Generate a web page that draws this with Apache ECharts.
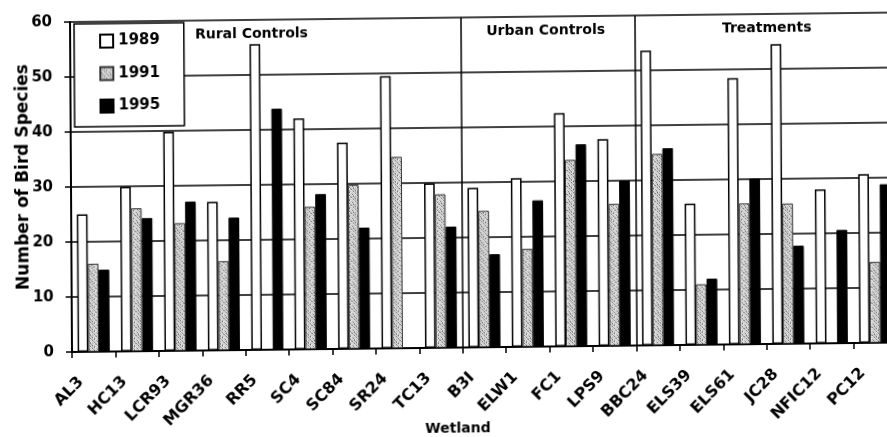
<!DOCTYPE html>
<html>
<head>
<meta charset="utf-8">
<script src="https://cdn.jsdelivr.net/npm/echarts@6/dist/echarts.min.js"></script>
<style>
  html, body { margin: 0; padding: 0; background: #fff; overflow: hidden; }
  /* the printed figure sits slightly askew on the page */
  #chart {
    width: 920px; height: 460px;
    transform-origin: 72px 352px;
    transform: matrix(1, -0.0115, 0.006, 1, 0, 0);
  }
</style>
</head>
<body>
<div id="chart"></div>
<script>
// Wetland sites, grouped as rural controls, urban controls and treatments
const wetlands = ['AL3', 'HC13', 'LCR93', 'MGR36', 'RR5', 'SC4', 'SC84', 'SR24', 'TC13',
                  'B3I', 'ELW1', 'FC1', 'LPS9',
                  'BBC24', 'ELS39', 'ELS61', 'JC28', 'NFIC12', 'PC12'];

// Number of bird species per survey year ('-' = not surveyed)
const species1989 = [25, 29.9, 39.8, 27, 55.6, 42, 37.5, 49.5, 29.9, 29, 30.7, 42.4, 37.6, 53.6, 25.7, 48.4, 54.5, 28, 30.7];
const species1991 = [16, 26, 23.2, 16.2, '-', 25.9, 29.8, 34.8, 27.9, 24.8, 17.8, 33.9, 25.8, 34.8, 11, 25.6, 25.5, '-', 14.7];
const species1995 = [14.9, 24.2, 27.1, 24.1, 43.8, 28.2, 22, '-', 22, 16.9, 26.6, 36.7, 30, 35.8, 12, 30.1, 17.8, 20.6, 28.8];

const yTicks = { min: 0, max: 60, step: 10 };
const groupLabels = ['Rural Controls', 'Urban Controls', 'Treatments'];
const groupStarts = [0, 9, 13]; // first category index of each group
const groupNudge = [-14, -2, 2];  // small horizontal nudges of the headings

const FONT = 'DejaVu Sans';

// Stippled halftone fill for the 1991 bars
function stipple() {
  const rows = [
    '#.:+.:.+',
    '.+.:#.:.',
    ':.#.+.+:',
    '.:.+.:#.',
    '+.:.#.:.',
    '.#.:.+.:',
    ':.+.:.#.',
    '.:#.+:.+'
  ];
  const shade = { '#': 90, '+': 160, ':': 200, '.': 235 };
  const c = document.createElement('canvas');
  c.width = 8; c.height = 8;
  const ctx = c.getContext('2d');
  const img = ctx.createImageData(8, 8);
  for (let y = 0; y < 8; y++) {
    for (let x = 0; x < 8; x++) {
      const v = shade[rows[y][x]];
      const i = (y * 8 + x) * 4;
      img.data[i] = v; img.data[i + 1] = v; img.data[i + 2] = v; img.data[i + 3] = 255;
    }
  }
  ctx.putImageData(img, 0, 0);
  return { image: c, repeat: 'repeat' };
}

const chart = echarts.init(document.getElementById('chart'), null, { renderer: 'canvas' });

const barBase = { type: 'bar', barWidth: 10.7, barGap: '0%', z: 3 };

chart.setOption({
  animation: false,
  backgroundColor: '#fff',
  textStyle: { fontFamily: FONT },
  grid: { left: 72, top: 22, width: 825, height: 330, containLabel: false, outerBoundsMode: 'none' },
  legend: {
    orient: 'vertical',
    left: 76, top: 24,
    padding: [10, 24, 13, 25],
    itemGap: 17.5,
    itemWidth: 13, itemHeight: 13,
    backgroundColor: '#fff',
    borderColor: '#000', borderWidth: 1.5, borderRadius: 0,
    icon: 'rect',
    textStyle: { fontFamily: FONT, fontWeight: 'bold', fontSize: 15, color: '#000' },
    z: 10
  },
  xAxis: {
    type: 'category',
    data: wetlands,
    boundaryGap: true,
    name: 'Wetland',
    nameLocation: 'middle',
    nameGap: 74,
    nameMoveOverlap: false,
    nameTextStyle: { fontFamily: FONT, fontWeight: 'bold', fontSize: 14, color: '#000', padding: [0, 54, 0, 0] },
    axisLine: { lineStyle: { color: '#000', width: 2 } },
    axisTick: { show: true, length: 6, interval: 0, lineStyle: { color: '#000', width: 1.5 } },
    axisLabel: {
      interval: 0, rotate: 45, margin: 15, padding: [0, 18, 0, 0],
      color: '#000', fontFamily: FONT, fontWeight: 'bold', fontSize: 16
    },
    splitLine: {
      show: true,
      interval: (index) => groupStarts.indexOf(index) > 0,
      lineStyle: { color: '#000', width: 1.5 }
    }
  },
  yAxis: {
    type: 'value',
    min: yTicks.min, max: yTicks.max, interval: yTicks.step,
    name: 'Number of Bird Species',
    nameLocation: 'middle',
    nameGap: 39,
    nameMoveOverlap: false,
    nameTextStyle: { fontFamily: FONT, fontWeight: 'bold', fontSize: 17, color: '#000', padding: [0, 0, 0, 21] },
    axisLine: { show: true, lineStyle: { color: '#000', width: 2 } },
    axisTick: { show: true, length: 6, lineStyle: { color: '#000', width: 1.5 } },
    axisLabel: { margin: 18, color: '#000', fontFamily: FONT, fontWeight: 'bold', fontSize: 15 },
    splitLine: { show: true, lineStyle: { color: '#000', width: 1.5 } }
  },
  series: [
    Object.assign({}, barBase, {
      name: '1989', data: species1989,
      itemStyle: { color: '#fff', borderColor: '#000', borderWidth: 1.5 }
    }),
    Object.assign({}, barBase, {
      name: '1991', data: species1991,
      itemStyle: { color: stipple(), borderColor: '#333', borderWidth: 1 }
    }),
    Object.assign({}, barBase, {
      name: '1995', data: species1995,
      itemStyle: { color: '#000', borderColor: '#000', borderWidth: 1 }
    })
  ]
});

// Group headings centred over their block of categories
function placeGroupLabels() {
  const topY = chart.convertToPixel({ yAxisIndex: 0 }, yTicks.max);
  const elements = groupLabels.map((txt, g) => {
    const first = groupStarts[g];
    const last = g + 1 < groupStarts.length ? groupStarts[g + 1] - 1 : wetlands.length - 1;
    const x0 = chart.convertToPixel({ xAxisIndex: 0 }, wetlands[first]);
    const x1 = chart.convertToPixel({ xAxisIndex: 0 }, wetlands[last]);
    return {
      type: 'text',
      x: (x0 + x1) / 2 + groupNudge[g],
      y: topY + 14,
      style: {
        text: txt, align: 'center', verticalAlign: 'middle',
        font: 'bold 14px "' + FONT + '"', fill: '#000'
      },
      z: 20
    };
  });
  chart.setOption({ graphic: elements });
}
placeGroupLabels();
</script>
</body>
</html>
